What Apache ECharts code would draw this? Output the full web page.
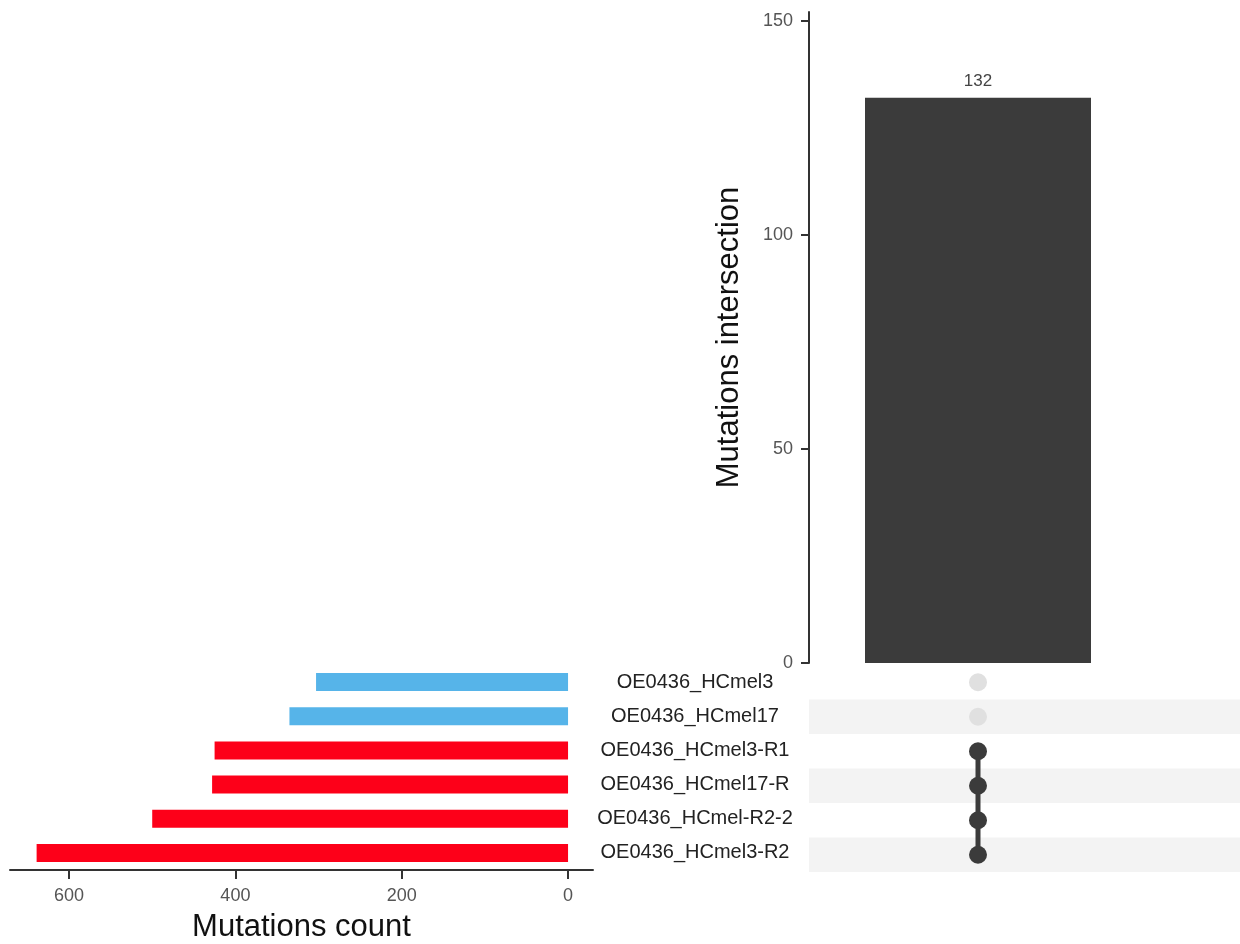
<!DOCTYPE html>
<html>
<head>
<meta charset="utf-8">
<script src="https://cdn.jsdelivr.net/npm/echarts@6/dist/echarts.min.js"></script>
<style>
html,body{margin:0;padding:0;background:#fff;}
#chart{width:1240px;height:944px;}
</style>
</head>
<body>
<div id="chart"></div>
<script>
// ---- data ----
const setNames = ['OE0436_HCmel3','OE0436_HCmel17','OE0436_HCmel3-R1','OE0436_HCmel17-R','OE0436_HCmel-R2-2','OE0436_HCmel3-R2'];
const setSizes = [303, 335, 425, 428, 500, 639];
const originalSets = ['OE0436_HCmel3','OE0436_HCmel17'];
const intersections = ['I1'];
const intersectionSizes = [132];
const membership = [[0,0,1,1,1,1]]; // per intersection, per set
const sizeTicks = [0, 200, 400, 600];
const interTicks = [0, 50, 100, 150];

// ---- styles ----
const DARK = '#3b3b3b';
const LIGHT = '#e0e0e0';
const BLUE = '#56B4E9';
const RED = '#FD0019';
const FONT = 'Liberation Sans, Arial, sans-serif';

const chart = echarts.init(document.getElementById('chart'), null, {renderer:'canvas'});

const dotData = [];
const lineData = [];
intersections.forEach((name, i) => {
  setNames.forEach((s, j) => {
    const on = membership[i][j] === 1;
    dotData.push({value:[name, s], itemStyle:{color: on ? DARK : LIGHT, opacity:1}});
    if (on) lineData.push([name, s]);
  });
});

const option = {
  backgroundColor:'#fff',
  animation:false,
  textStyle:{fontFamily:FONT},
  grid:[
    {left:809, top:12, width:338, height:651},   // intersection bars
    {left:809, right:0, top:665, height:207},    // stripes
    {left:809, width:338, top:665, height:207},  // dot matrix
    {left:10, width:583, top:665, height:207}    // set sizes
  ],
  xAxis:[
    {gridIndex:0, type:'category', data:intersections, show:false},
    {gridIndex:1, type:'value', show:false, min:0, max:1},
    {gridIndex:2, type:'category', data:intersections, show:false},
    {gridIndex:3, type:'value', inverse:true, min:-30, max:671,
      axisLine:{show:true, lineStyle:{color:'#333', width:2}},
      axisTick:{show:true, length:9, lineStyle:{color:'#333', width:2}, customValues:sizeTicks},
      axisLabel:{color:'#555', fontSize:18, margin:17, customValues:sizeTicks, fontFamily:FONT},
      splitLine:{show:false},
      name:'Mutations count', nameLocation:'middle', nameGap:42,
      nameTextStyle:{fontSize:31, color:'#111', fontFamily:FONT}
    }
  ],
  yAxis:[
    {gridIndex:0, type:'value', min:0, max:152,
      axisLine:{show:true, lineStyle:{color:'#333', width:2}},
      axisTick:{show:true, length:8, lineStyle:{color:'#333', width:2}, customValues:interTicks},
      axisLabel:{color:'#555', fontSize:18, margin:16, customValues:interTicks, fontFamily:FONT},
      splitLine:{show:false},
      name:'Mutations intersection', nameLocation:'middle', nameGap:64,
      nameTextStyle:{fontSize:31, color:'#111', fontFamily:FONT}
    },
    {gridIndex:1, type:'category', data:setNames, inverse:true,
      axisLine:{show:false}, axisTick:{show:false}, axisLabel:{show:false},
      splitArea:{show:true, areaStyle:{color:['#ffffff','#f3f3f3']}}
    },
    {gridIndex:2, type:'category', data:setNames, inverse:true, show:false},
    {gridIndex:3, type:'category', data:setNames, inverse:true, position:'right',
      axisLine:{show:false}, axisTick:{show:false},
      axisLabel:{color:'#222', fontSize:20, align:'center', margin:102, fontFamily:FONT}
    }
  ],
  series:[
    {type:'bar', xAxisIndex:0, yAxisIndex:0, data:intersectionSizes, barWidth:226,
      itemStyle:{color:DARK},
      label:{show:true, position:'top', distance:8, color:'#444', fontSize:17, fontFamily:FONT}
    },
    {type:'line', xAxisIndex:2, yAxisIndex:2, data:lineData, symbol:'none',
      lineStyle:{color:DARK, width:5}, z:2},
    {type:'scatter', xAxisIndex:2, yAxisIndex:2, data:dotData, symbolSize:18, z:3,
      itemStyle:{opacity:1}},
    {type:'bar', xAxisIndex:3, yAxisIndex:3, barWidth:18,
      data:setSizes.map((v,i)=>({value:v, itemStyle:{color: originalSets.includes(setNames[i]) ? BLUE : RED}}))
    }
  ]
};
chart.setOption(option);
</script>
</body>
</html>
